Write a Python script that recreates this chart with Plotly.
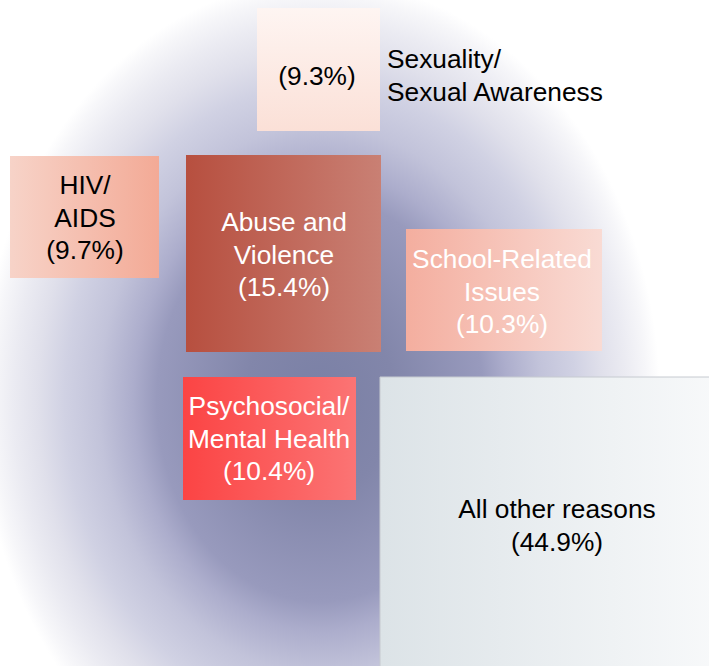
import plotly.graph_objects as go

# ---- data ----
categories = ["Sexuality/<br>Sexual Awareness", "HIV/<br>AIDS", "Abuse and<br>Violence",
              "School-Related<br>Issues", "Psychosocial/<br>Mental Health", "All other reasons"]
percent = [9.3, 9.7, 15.4, 10.3, 10.4, 44.9]

# ---- layout (pixel coordinates of each box: x0, x1, y0, y1) ----
boxes = [
    (257, 380, 8, 131),
    (10, 159, 156, 278),
    (186, 381, 155, 352),
    (406, 602, 229, 351),
    (183, 356, 377, 500),
    (380, 734, 377, 676),
]
grad_dir = ["vertical", "horizontal", "horizontal", "horizontal", "horizontal", "horizontal"]
grad_colors = [
    ("#fef5f2", "#fbe0d7"),
    ("#f7d3c8", "#f3aa96"),
    ("#b74f3f", "#c98074"),
    ("#f4ae9f", "#f9dbd4"),
    ("#fb4444", "#fb7474"),
    ("#dce3e7", "#f9fafb"),
]
text_colors = ["black", "black", "white", "white", "white", "black"]
text_pos = [(317, 78), (85, 220), (284, 257), (502, 294), (269, 441), (557, 528)]
outside_label_pos = (387, 78)
LINE_GAP = 32.4

W, H = 709, 666
FONT = "Arial, Liberation Sans, sans-serif"
FS = 26.3

fig = go.Figure()

# elliptical background glow
cx, cy, rx, ry = 320, 400, 340, 420
fig.add_trace(go.Scatter(
    x=[cx - rx, cx + rx, cx + rx, cx - rx, cx - rx],
    y=[cy - ry, cy - ry, cy + ry, cy + ry, cy - ry],
    mode="lines", fill="toself", line=dict(width=0),
    fillgradient=dict(type="radial",
                      colorscale=[[0, "#7a80a5"], [0.22, "#8286aa"], [0.48, "#989abd"],
                                  [0.55, "#acadcc"], [0.65, "#c2c3da"], [0.75, "#d0d1e3"],
                                  [0.83, "#e0e0eb"], [0.9, "#ebebf2"], [0.96, "#f6f6f9"],
                                  [1, "#ffffff"]]),
    hoverinfo="skip", showlegend=False))


def add_lines(lines, x, yc, color, pos="middle center"):
    n = len(lines)
    ys = [yc + (k - (n - 1) / 2) * LINE_GAP for k in range(n)]
    fig.add_trace(go.Scatter(
        x=[x] * n, y=ys, mode="text", text=lines, textposition=pos,
        textfont=dict(family=FONT, size=FS, color=color),
        hoverinfo="skip", showlegend=False))


for i, (cat, val) in enumerate(zip(categories, percent)):
    x0, x1, y0, y1 = boxes[i]
    c0, c1 = grad_colors[i]
    if grad_dir[i] == "vertical":
        fg = dict(type="vertical", start=y0, stop=y1, colorscale=[[0, c0], [1, c1]])
    else:
        fg = dict(type="horizontal", start=x0, stop=x1, colorscale=[[0, c0], [1, c1]])
    last = i == len(categories) - 1
    fig.add_trace(go.Scatter(
        x=[x0, x1, x1, x0, x0], y=[y0, y0, y1, y1, y0],
        mode="lines", fill="toself",
        line=dict(width=1 if last else 0, color="#c6cad0" if last else "rgba(0,0,0,0)"),
        fillgradient=fg, hoverinfo="skip", showlegend=False))

    tx, ty = text_pos[i]
    if i == 0:
        lines = [f"({val}%)"]
    else:
        lines = cat.split("<br>") + [f"({val}%)"]
    add_lines(lines, tx, ty, text_colors[i])

# outside label for Sexuality
add_lines(categories[0].split("<br>"), outside_label_pos[0], outside_label_pos[1],
          "black", pos="middle right")

fig.update_layout(
    width=W, height=H, margin=dict(l=0, r=0, t=0, b=0),
    paper_bgcolor="white", plot_bgcolor="white",
    xaxis=dict(range=[0, W], visible=False, fixedrange=True),
    yaxis=dict(range=[H, 0], visible=False, fixedrange=True),
)
fig.write_html("out.html", config={"displayModeBar": False},
               post_script="document.body.style.margin='0';document.body.style.overflow='hidden';")
